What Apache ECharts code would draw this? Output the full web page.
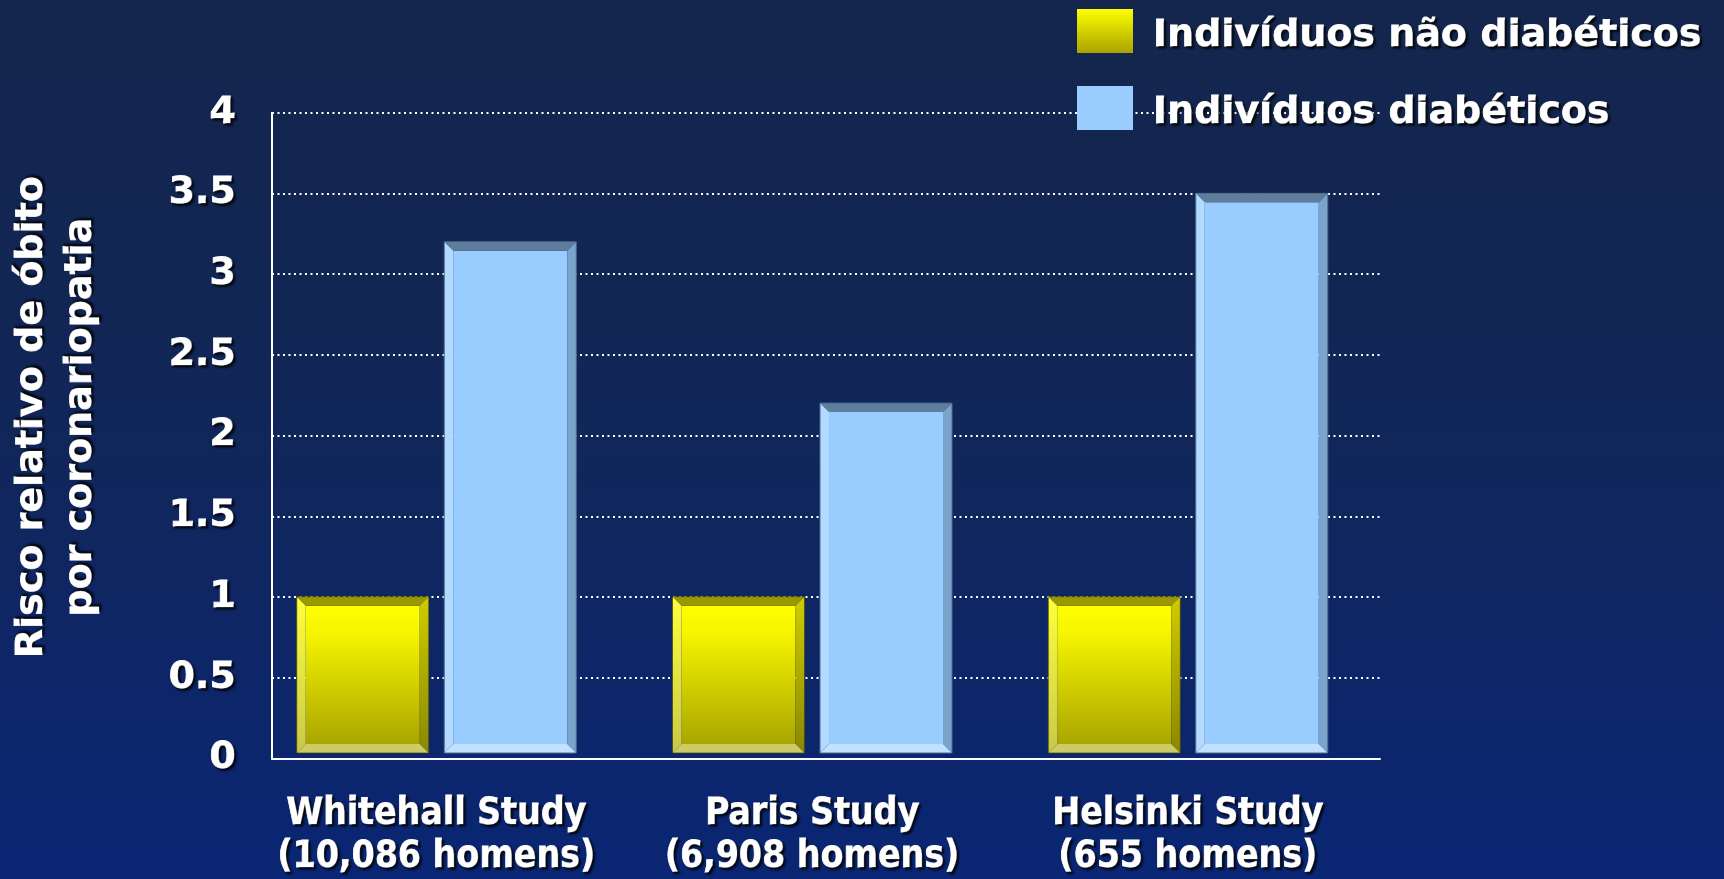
<!DOCTYPE html>
<html>
<head>
<meta charset="utf-8">
<title>Risco relativo de óbito por coronariopatia</title>
<script src="https://cdn.jsdelivr.net/npm/echarts@6/dist/echarts.min.js"></script>
<style>
  html, body { margin: 0; padding: 0; width: 100%; height: 100%; overflow: hidden; }
  #chart { width: 1724px; height: 879px; }
</style>
</head>
<body>
<div id="chart"></div>
<script>
// Study groups shown along the horizontal axis
const categories = [
  'Whitehall Study\n(10,086 homens)',
  'Paris Study\n(6,908 homens)',
  'Helsinki Study\n(655 homens)'
];
// Relative risk of coronary death
const nonDiabetic = [1.0, 1.0, 1.0];
const diabetic = [3.2, 2.2, 3.5];
const seriesNames = ['Indivíduos não diabéticos', 'Indivíduos diabéticos'];
// Value axis ticks
const yMin = 0;
const yMax = 4;
const yStep = 0.5;
const yTitle = 'Risco relativo de óbito\npor coronariopatia';

const FONT = 'DejaVu Sans';
// heavy white lettering with a dark drop shadow
const shadow = {
  textBorderColor: '#ffffff',
  textBorderWidth: 0.8,
  textShadowColor: 'rgba(0,0,0,0.8)',
  textShadowBlur: 2,
  textShadowOffsetX: 2,
  textShadowOffsetY: 2
};

const grad = (a, b) => new echarts.graphic.LinearGradient(0, 0, 0, 1, [
  { offset: 0, color: a }, { offset: 1, color: b }
]);

// Colour sets for the bevelled columns
const palettes = [
  {
    face: () => new echarts.graphic.LinearGradient(0, 0, 0, 1, [
      { offset: 0, color: '#ffff00' },
      { offset: 0.2, color: '#f6f400' },
      { offset: 1, color: '#a9a600' }
    ]),
    top: '#9c9900',
    left: () => grad('#ffff3c', '#c9c84a'),
    right: () => grad('#cfcc00', '#8a8800'),
    bottom: '#cccb66',
    edge: 'rgba(70,70,0,0.7)'
  },
  {
    face: () => '#99ccff',
    top: '#5f7d9c',
    left: () => '#b2d9ff',
    right: () => '#7ba4cc',
    bottom: '#c2e1ff',
    edge: '#4e6b8c'
  }
];

const BAND_BAR = 0.3513;   // share of a category band taken by one column
const BAND_GAP = 0.0413;   // share of a band between the two columns
const BEVEL = 9;
const BASE_INSET = 5;

function bevelBar(params, api) {
  const si = params.seriesIndex;
  const idx = api.value(0);
  const top = api.coord([idx, api.value(1)]);
  const base = api.coord([idx, 0]);
  const band = api.size([1, 0])[0];
  const bw = band * BAND_BAR;
  const gap = band * BAND_GAP;
  const cx = si === 0 ? top[0] - gap / 2 - bw / 2 : top[0] + gap / 2 + bw / 2;
  const x0 = cx - bw / 2, x1 = cx + bw / 2;
  const y0 = top[1], y1 = base[1] - BASE_INSET;
  const b = BEVEL;
  const p = palettes[si];
  const poly = (pts, fill) => ({ type: 'polygon', shape: { points: pts }, style: { fill: fill } });
  return {
    type: 'group',
    children: [
      { type: 'rect', shape: { x: x0 + b, y: y0 + b, width: bw - 2 * b, height: y1 - y0 - 2 * b },
        style: { fill: p.face() } },
      poly([[x0, y0], [x1, y0], [x1 - b, y0 + b], [x0 + b, y0 + b]], p.top),
      poly([[x0, y0], [x0 + b, y0 + b], [x0 + b, y1 - b], [x0, y1]], p.left()),
      poly([[x1, y0], [x1, y1], [x1 - b, y1 - b], [x1 - b, y0 + b]], p.right()),
      poly([[x0, y1], [x0 + b, y1 - b], [x1 - b, y1 - b], [x1, y1]], p.bottom),
      { type: 'rect', shape: { x: x0, y: y0, width: bw, height: y1 - y0 },
        style: { fill: 'none', stroke: p.edge, lineWidth: 1 } }
    ]
  };
}

const chart = echarts.init(document.getElementById('chart'), null, { renderer: 'canvas' });

const plotTop = 112.7;
const plotHeight = 645.8;

const legendText = Object.assign({
  color: '#ffffff', fontSize: 38, fontWeight: 'bold', fontFamily: FONT,
  padding: [11, 0, 0, 15]
}, shadow);

chart.setOption({
  backgroundColor: new echarts.graphic.LinearGradient(0, 0, 0, 1, [
    { offset: 0, color: '#14264c' },
    { offset: 0.5, color: '#112659' },
    { offset: 1, color: '#0a2674' }
  ]),
  animation: false,
  textStyle: { fontFamily: FONT },
  legend: {
    orient: 'vertical',
    left: 1077,
    top: 9,
    padding: 0,
    itemWidth: 56,
    itemHeight: 44,
    itemGap: 30,
    icon: 'rect',
    data: seriesNames,
    formatter: name => '{t|' + name + '}',
    textStyle: {
      color: '#ffffff', fontSize: 38, fontWeight: 'bold', fontFamily: FONT,
      rich: { t: legendText }
    }
  },
  grid: [
    // axes, gridlines and value labels
    { left: 272, top: plotTop, width: 1108, height: plotHeight },
    // column placement and study labels
    { left: 248.6, top: plotTop, width: 1127.3, height: plotHeight }
  ],
  xAxis: [
    {
      type: 'category', gridIndex: 0, data: categories,
      axisLine: { lineStyle: { color: '#ffffff', width: 2 } },
      axisTick: { show: false },
      axisLabel: { show: false },
      splitLine: { show: false }
    },
    {
      type: 'category', gridIndex: 1, data: categories,
      axisLine: { show: false },
      axisTick: { show: false },
      splitLine: { show: false },
      axisLabel: Object.assign({
        color: '#ffffff', fontSize: 37, fontWeight: 'bold',
        fontFamily: 'DejaVu Sans Condensed, DejaVu Sans',
        lineHeight: 43, margin: 35, interval: 0
      }, shadow)
    }
  ],
  yAxis: [
    {
      type: 'value', gridIndex: 0, min: yMin, max: yMax, interval: yStep,
      axisLine: { show: true, lineStyle: { color: '#ffffff', width: 2 } },
      axisTick: { show: false },
      splitLine: { show: true, lineStyle: { color: '#ffffff', width: 2, type: [2, 3.5] } },
      axisLabel: Object.assign({
        color: '#ffffff', fontSize: 38, fontWeight: 'bold', fontFamily: FONT,
        margin: 36, padding: [0, 0, 12, 0]
      }, shadow)
    },
    {
      type: 'value', gridIndex: 1, min: yMin, max: yMax, interval: yStep,
      show: false
    }
  ],
  graphic: [
    {
      type: 'text',
      x: 57, y: 417,
      rotation: Math.PI / 2,
      style: {
        text: yTitle,
        x: 0, y: 0,
        align: 'center', verticalAlign: 'middle',
        textAlign: 'center', textVerticalAlign: 'middle',
        fill: '#ffffff',
        font: 'bold 38px "DejaVu Sans"',
        lineHeight: 49,
        stroke: '#ffffff', lineWidth: 0.8,
        textShadowColor: 'rgba(0,0,0,0.8)', textShadowBlur: 2,
        textShadowOffsetX: 2, textShadowOffsetY: -2
      }
    }
  ],
  series: [
    {
      name: seriesNames[0],
      type: 'custom',
      xAxisIndex: 1, yAxisIndex: 1,
      itemStyle: { color: grad('#ffff00', '#a8a400') },
      encode: { x: 0, y: 1 },
      renderItem: bevelBar,
      data: nonDiabetic.map((v, i) => [i, v])
    },
    {
      name: seriesNames[1],
      type: 'custom',
      xAxisIndex: 1, yAxisIndex: 1,
      itemStyle: { color: '#99ccff' },
      encode: { x: 0, y: 1 },
      renderItem: bevelBar,
      data: diabetic.map((v, i) => [i, v])
    }
  ]
});
</script>
</body>
</html>
